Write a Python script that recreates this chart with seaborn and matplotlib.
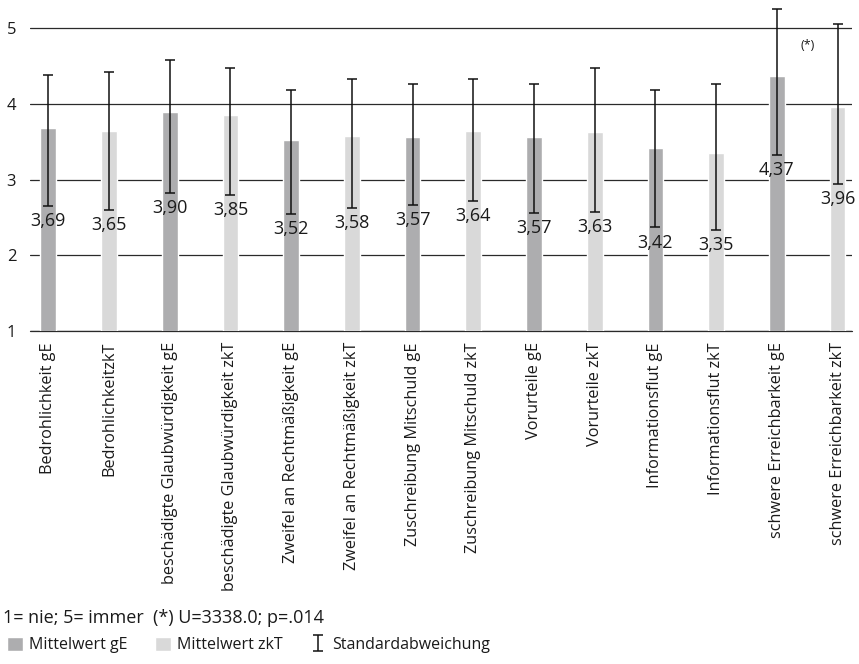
import pandas as pd
import matplotlib
matplotlib.use('Agg')
import matplotlib.pyplot as plt
import seaborn as sns
from matplotlib.patches import Patch

categories = ['Bedrohlichkeit gE', 'BedrohlichkeitzkT',
              'beschädigte Glaubwürdigkeit gE', 'beschädigte Glaubwürdigkeit zkT',
              'Zweifel an Rechtmäßigkeit gE', 'Zweifel an Rechtmäßigkeit zkT',
              'Zuschreibung Mitschuld gE', 'Zuschreibung Mitschuld zkT',
              'Vorurteile gE', 'Vorurteile zkT',
              'Informationsflut gE', 'Informationsflut zkT',
              'schwere Erreichbarkeit gE', 'schwere Erreichbarkeit zkT']
groups = ['gE', 'zkT'] * 7
means = [3.69, 3.65, 3.90, 3.85, 3.52, 3.58, 3.57, 3.64, 3.57, 3.63, 3.42, 3.35, 4.37, 3.96]
# Enden der Fehlerbalken
err_high = [4.38, 4.43, 4.58, 4.48, 4.18, 4.33, 4.27, 4.33, 4.27, 4.48, 4.18, 4.27, 5.26, 5.06]
err_low = [2.65, 2.60, 2.83, 2.80, 2.55, 2.63, 2.67, 2.72, 2.56, 2.58, 2.37, 2.34, 3.33, 2.94]
y_ticks = [1, 2, 3, 4, 5]

df = pd.DataFrame({'kategorie': categories, 'gruppe': groups, 'mittelwert': means})

sns.set_style('white')
plt.rcParams['font.family'] = ['Open Sans', 'DejaVu Sans']
txt = '#1a1a1a'
colors = {'gE': '#adadaf', 'zkT': '#d9d9d9'}

fig, ax = plt.subplots(figsize=(8.59, 6.64), dpi=100)
fig.subplots_adjust(left=0.035, right=0.992, bottom=0.5015, top=0.997)

sns.barplot(data=df, x='kategorie', y='mittelwert', hue='gruppe', palette=colors,
            dodge=False, width=0.26, legend=False, ax=ax, zorder=2)

x = list(range(len(categories)))
lower = [m - lo for m, lo in zip(means, err_low)]
upper = [hi - m for m, hi in zip(means, err_high)]
eb = ax.errorbar(x, means, yerr=[lower, upper], fmt='none', ecolor='#111111',
                 elinewidth=1.1, capsize=3.5, capthick=1.1, zorder=3, clip_on=False)

for xi, m, lo in zip(x, means, err_low):
    ax.text(xi, lo - 0.2, f'{m:.2f}'.replace('.', ','), ha='center', va='center',
            fontsize=13, color=txt, zorder=4)

ax.text(12.5, 4.78, '(*)', ha='center', va='center', fontsize=9, color=txt)

ax.set_ylim(1, 5.35)
ax.set_xlim(-0.3, 13.24)
ax.set_yticks(y_ticks)
ax.yaxis.grid(True, color='#2a2a2a', linewidth=0.9)
ax.axhline(1, color='#2a2a2a', linewidth=0.9, zorder=1, clip_on=False)
ax.set_axisbelow(True)
ax.tick_params(axis='both', length=0, colors=txt)
ax.tick_params(axis='y', labelsize=12, pad=10)
ax.tick_params(axis='x', labelsize=11.7, pad=8)
plt.setp(ax.get_xticklabels(), rotation=90)
ax.set_xlabel('')
ax.set_ylabel('')
sns.despine(ax=ax, left=True, bottom=True)

fig.text(0.003, 1 - 618 / 664, '1= nie; 5= immer  (*) U=3338.0; p=.014',
         va='center', ha='left', fontsize=13, color=txt)

handles = [Patch(facecolor=colors['gE']), Patch(facecolor=colors['zkT']), eb]
labels = ['Mittelwert gE', 'Mittelwert zkT', 'Standardabweichung']
fig.legend(handles, labels, loc='center left', bbox_to_anchor=(0.008, 1 - 645 / 664),
           ncol=3, frameon=False, fontsize=11.5, handlelength=1.0, handleheight=1.0,
           handletextpad=0.4, columnspacing=1.7, borderaxespad=0, borderpad=0,
           labelcolor=txt)

plt.savefig('out.png', dpi=100)
